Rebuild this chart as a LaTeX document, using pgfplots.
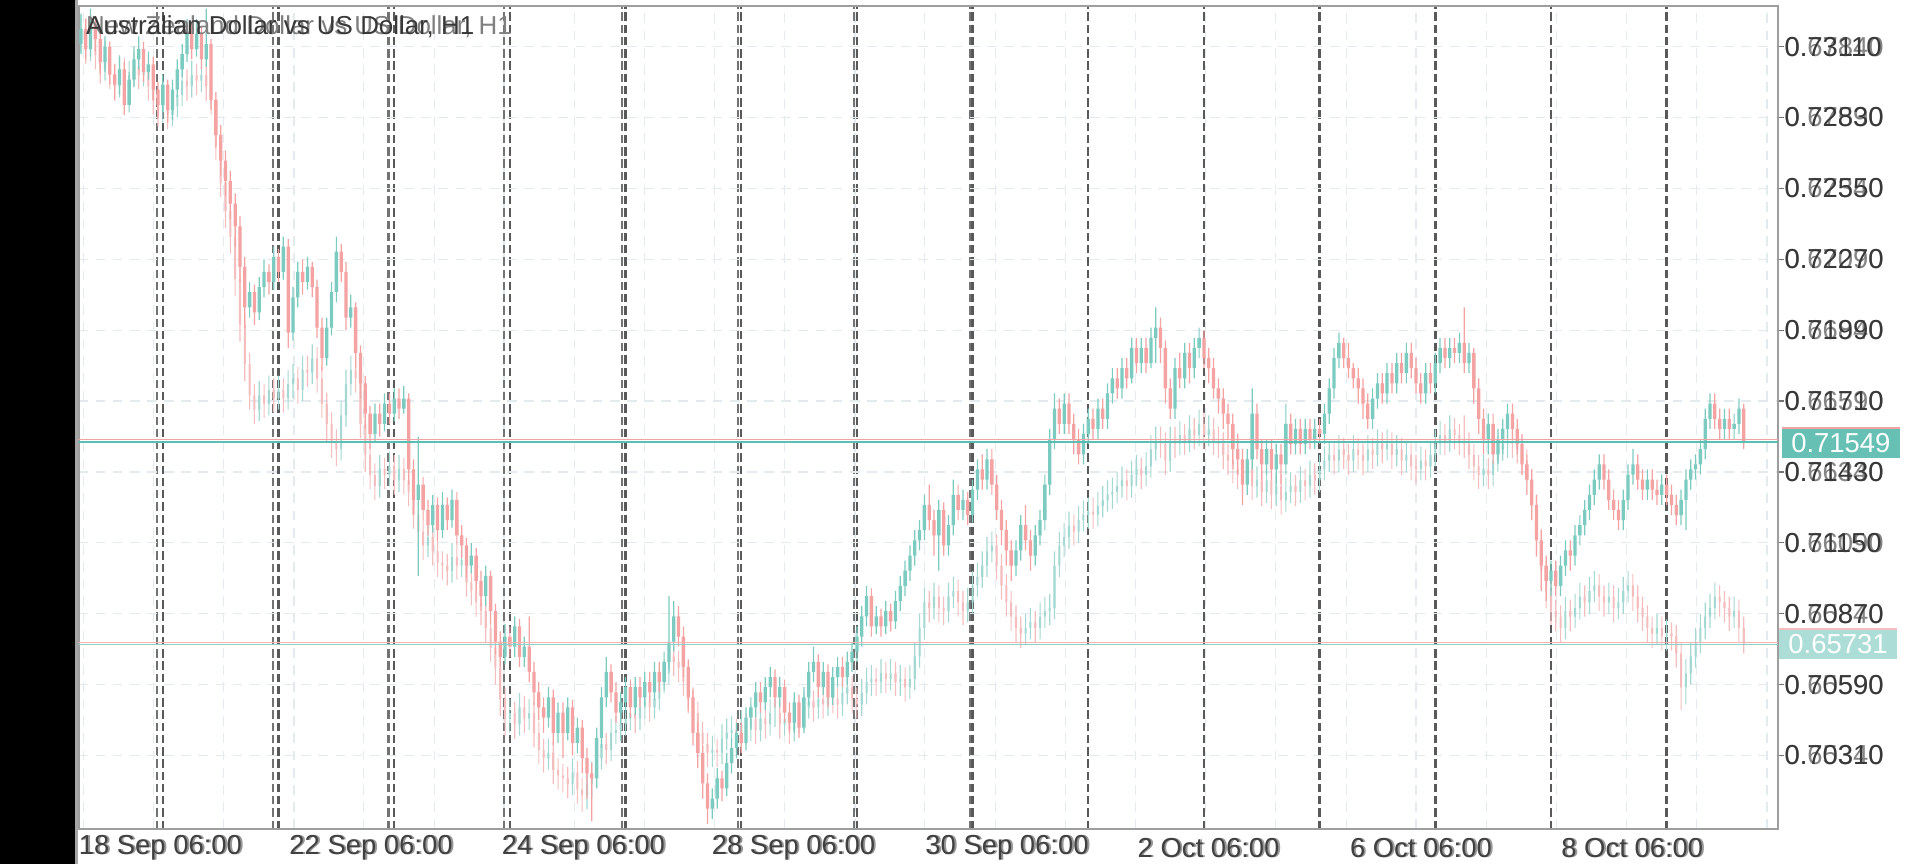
\documentclass[border=0pt]{standalone}
\usepackage{pgfplots}
\pgfplotsset{compat=1.18}
\usepackage{pgfplotstable}
\usepackage{fontspec}
\setmainfont{Liberation Sans}
\definecolor{bullA}{HTML}{7CCBC0}
\definecolor{bearA}{HTML}{F4A2A2}
\definecolor{bullB}{HTML}{A3D9D2}
\definecolor{bearB}{HTML}{F5BEBE}
\definecolor{gridc}{HTML}{E3EBEF}
\definecolor{tealline}{HTML}{5DBDB1}
\definecolor{pinkline}{HTML}{F1A3A3}
\definecolor{tagA}{HTML}{66C0B4}
\definecolor{tagB}{HTML}{ADDDD7}

% Australian Dollar vs US Dollar, H1 : bar, open, high, low, close
\pgfplotstableread{
i o h l c
7 0.7312 0.7324 0.7308 0.7318
8 0.7318 0.7322 0.7306 0.7310
9 0.7310 0.7326 0.7307 0.7320
10 0.7320 0.7323 0.7309 0.7314
11 0.7314 0.7317 0.7300 0.7305
12 0.7305 0.7315 0.7301 0.7311
13 0.7311 0.7313 0.7296 0.7300
14 0.7300 0.7304 0.7290 0.7296
15 0.7296 0.7307 0.7292 0.7302
16 0.7302 0.7305 0.7284 0.7288
17 0.7288 0.7301 0.7285 0.7298
18 0.7298 0.7311 0.7295 0.7306
19 0.7306 0.7315 0.7302 0.7310
20 0.7310 0.7313 0.7297 0.7301
21 0.7301 0.7309 0.7298 0.7304
22 0.7304 0.7307 0.7290 0.7294
23 0.7294 0.7297 0.7283 0.7288
24 0.7288 0.7300 0.7285 0.7296
25 0.7296 0.7298 0.7281 0.7286
26 0.7286 0.7298 0.7282 0.7294
27 0.7294 0.7306 0.7291 0.7302
28 0.7302 0.7312 0.7299 0.7308
29 0.7308 0.7322 0.7305 0.7317
30 0.7317 0.7320 0.7306 0.7310
31 0.7310 0.7322 0.7307 0.7316
32 0.7316 0.7319 0.7302 0.7306
33 0.7306 0.7326 0.7303 0.7312
34 0.7312 0.7314 0.7286 0.7290
35 0.7290 0.7293 0.7271 0.7276
36 0.7276 0.7280 0.7260 0.7266
37 0.7266 0.7270 0.7252 0.7258
38 0.7258 0.7262 0.7243 0.7249
39 0.7249 0.7253 0.7232 0.7240
40 0.7240 0.7244 0.7218 0.7224
41 0.7224 0.7228 0.7200 0.7208
42 0.7208 0.7218 0.7204 0.7214
43 0.7214 0.7217 0.7201 0.7206
44 0.7206 0.7220 0.7203 0.7216
45 0.7216 0.7227 0.7212 0.7222
46 0.7222 0.7225 0.7213 0.7218
47 0.7218 0.7232 0.7215 0.7228
48 0.7228 0.7231 0.7218 0.7222
49 0.7222 0.7236 0.7219 0.7232
50 0.7232 0.7235 0.7192 0.7198
51 0.7198 0.7216 0.7195 0.7212
52 0.7212 0.7226 0.7208 0.7222
53 0.7222 0.7227 0.7213 0.7218
54 0.7218 0.7228 0.7215 0.7224
55 0.7224 0.7226 0.7212 0.7216
56 0.7216 0.7219 0.7196 0.7200
57 0.7200 0.7204 0.7183 0.7188
58 0.7188 0.7204 0.7185 0.7200
59 0.7200 0.7218 0.7197 0.7214
60 0.7214 0.7236 0.7210 0.7230
61 0.7230 0.7233 0.7218 0.7222
62 0.7222 0.7226 0.7199 0.7204
63 0.7204 0.7213 0.7200 0.7208
64 0.7208 0.7210 0.7184 0.7190
65 0.7190 0.7193 0.7172 0.7178
66 0.7178 0.7181 0.7160 0.7166
67 0.7166 0.7169 0.7152 0.7158
68 0.7158 0.7170 0.7155 0.7166
69 0.7166 0.7170 0.7157 0.7162
70 0.7162 0.7174 0.7159 0.7170
71 0.7170 0.7174 0.7162 0.7166
72 0.7166 0.7176 0.7163 0.7172
73 0.7172 0.7176 0.7164 0.7168
74 0.7168 0.7177 0.7166 0.7172
75 0.7172 0.7174 0.7138 0.7144
76 0.7144 0.7148 0.7126 0.7132
77 0.7132 0.7157 0.7102 0.7138
78 0.7138 0.7141 0.7124 0.7128
79 0.7128 0.7132 0.7118 0.7122
80 0.7122 0.7134 0.7119 0.7130
81 0.7130 0.7133 0.7116 0.7120
82 0.7120 0.7135 0.7117 0.7130
83 0.7130 0.7133 0.7120 0.7124
84 0.7124 0.7136 0.7121 0.7132
85 0.7132 0.7135 0.7114 0.7118
86 0.7118 0.7122 0.7109 0.7114
87 0.7114 0.7117 0.7101 0.7106
88 0.7106 0.7115 0.7103 0.7110
89 0.7110 0.7113 0.7096 0.7100
90 0.7100 0.7104 0.7090 0.7094
91 0.7094 0.7106 0.7090 0.7102
92 0.7102 0.7104 0.7083 0.7088
93 0.7088 0.7091 0.7071 0.7076
94 0.7076 0.7080 0.7066 0.7070
95 0.7070 0.7083 0.7067 0.7078
96 0.7078 0.7082 0.7070 0.7074
97 0.7074 0.7086 0.7070 0.7082
98 0.7082 0.7085 0.7066 0.7070
99 0.7070 0.7078 0.7066 0.7074
100 0.7074 0.7086 0.7060 0.7064
101 0.7064 0.7068 0.7051 0.7056
102 0.7056 0.7060 0.7045 0.7050
103 0.7050 0.7054 0.7040 0.7046
104 0.7046 0.7058 0.7042 0.7054
105 0.7054 0.7057 0.7035 0.7040
106 0.7040 0.7052 0.7036 0.7048
107 0.7048 0.7052 0.7030 0.7040
108 0.7040 0.7054 0.7037 0.7050
109 0.7050 0.7053 0.7031 0.7036
110 0.7036 0.7046 0.7032 0.7042
111 0.7042 0.7045 0.7024 0.7030
112 0.7030 0.7034 0.7014 0.7024
113 0.7024 0.7028 0.7005 0.7022
114 0.7022 0.7042 0.7018 0.7038
115 0.7038 0.7058 0.7034 0.7054
116 0.7054 0.7070 0.7050 0.7064
117 0.7064 0.7067 0.7052 0.7056
118 0.7056 0.7060 0.7044 0.7048
119 0.7048 0.7056 0.7044 0.7052
120 0.7052 0.7062 0.7048 0.7058
121 0.7058 0.7061 0.7046 0.7050
122 0.7050 0.7062 0.7047 0.7058
123 0.7058 0.7062 0.7050 0.7054
124 0.7054 0.7064 0.7051 0.7060
125 0.7060 0.7064 0.7052 0.7056
126 0.7056 0.7068 0.7053 0.7064
127 0.7064 0.7068 0.7056 0.7060
128 0.7060 0.7072 0.7057 0.7068
129 0.7068 0.7094 0.7065 0.7076
130 0.7076 0.7092 0.7072 0.7086
131 0.7086 0.7090 0.7074 0.7078
132 0.7078 0.7082 0.7062 0.7066
133 0.7066 0.7069 0.7049 0.7054
134 0.7054 0.7057 0.7035 0.7040
135 0.7040 0.7044 0.7026 0.7032
136 0.7032 0.7035 0.7014 0.7020
137 0.7020 0.7024 0.7004 0.7010
138 0.7010 0.7018 0.7006 0.7014
139 0.7014 0.7026 0.7010 0.7022
140 0.7022 0.7025 0.7013 0.7018
141 0.7018 0.7032 0.7015 0.7028
142 0.7028 0.7038 0.7024 0.7034
143 0.7034 0.7044 0.7030 0.7040
144 0.7040 0.7044 0.7032 0.7036
145 0.7036 0.7050 0.7033 0.7046
146 0.7046 0.7054 0.7042 0.7050
147 0.7050 0.7060 0.7046 0.7056
148 0.7056 0.7060 0.7048 0.7052
149 0.7052 0.7062 0.7049 0.7058
150 0.7058 0.7066 0.7054 0.7062
151 0.7062 0.7065 0.7050 0.7054
152 0.7054 0.7062 0.7050 0.7058
153 0.7058 0.7061 0.7044 0.7048
154 0.7048 0.7052 0.7040 0.7044
155 0.7044 0.7056 0.7040 0.7052
156 0.7052 0.7055 0.7038 0.7042
157 0.7042 0.7058 0.7040 0.7054
158 0.7054 0.7068 0.7051 0.7064
159 0.7064 0.7074 0.7060 0.7068
160 0.7068 0.7071 0.7054 0.7058
161 0.7058 0.7068 0.7055 0.7064
162 0.7064 0.7067 0.7050 0.7054
163 0.7054 0.7066 0.7051 0.7062
164 0.7062 0.7070 0.7058 0.7066
165 0.7066 0.7070 0.7058 0.7062
166 0.7062 0.7072 0.7059 0.7068
167 0.7068 0.7076 0.7064 0.7072
168 0.7072 0.7082 0.7068 0.7078
169 0.7078 0.7090 0.7074 0.7086
170 0.7086 0.7098 0.7082 0.7094
171 0.7094 0.7097 0.7078 0.7082
172 0.7082 0.7090 0.7079 0.7086
173 0.7086 0.7089 0.7078 0.7082
174 0.7082 0.7092 0.7079 0.7088
175 0.7088 0.7091 0.7080 0.7084
176 0.7084 0.7096 0.7081 0.7092
177 0.7092 0.7102 0.7088 0.7098
178 0.7098 0.7108 0.7094 0.7104
179 0.7104 0.7114 0.7100 0.7110
180 0.7110 0.7120 0.7106 0.7116
181 0.7116 0.7124 0.7112 0.7120
182 0.7120 0.7134 0.7116 0.7130
183 0.7130 0.7138 0.7120 0.7124
184 0.7124 0.7128 0.7110 0.7118
185 0.7118 0.7132 0.7104 0.7128
186 0.7128 0.7131 0.7110 0.7114
187 0.7114 0.7126 0.7110 0.7122
188 0.7122 0.7140 0.7118 0.7134
189 0.7134 0.7138 0.7124 0.7128
190 0.7128 0.7136 0.7124 0.7132
191 0.7132 0.7135 0.7122 0.7126
192 0.7126 0.7140 0.7123 0.7136
193 0.7136 0.7148 0.7132 0.7144
194 0.7144 0.7150 0.7136 0.7140
195 0.7140 0.7152 0.7136 0.7148
196 0.7148 0.7152 0.7134 0.7138
197 0.7138 0.7142 0.7124 0.7128
198 0.7128 0.7132 0.7114 0.7120
199 0.7120 0.7124 0.7106 0.7112
200 0.7112 0.7116 0.7100 0.7106
201 0.7106 0.7116 0.7102 0.7112
202 0.7112 0.7126 0.7108 0.7122
203 0.7122 0.7130 0.7112 0.7116
204 0.7116 0.7120 0.7104 0.7110
205 0.7110 0.7122 0.7106 0.7118
206 0.7118 0.7128 0.7114 0.7124
207 0.7124 0.7142 0.7120 0.7138
208 0.7138 0.7160 0.7134 0.7156
209 0.7156 0.7174 0.7152 0.7168
210 0.7168 0.7172 0.7158 0.7162
211 0.7162 0.7174 0.7158 0.7170
212 0.7170 0.7174 0.7158 0.7162
213 0.7162 0.7166 0.7150 0.7156
214 0.7156 0.7160 0.7146 0.7150
215 0.7150 0.7162 0.7146 0.7158
216 0.7158 0.7168 0.7154 0.7164
217 0.7164 0.7168 0.7156 0.7160
218 0.7160 0.7172 0.7156 0.7168
219 0.7168 0.7172 0.7160 0.7164
220 0.7164 0.7178 0.7160 0.7174
221 0.7174 0.7184 0.7170 0.7180
222 0.7180 0.7184 0.7172 0.7176
223 0.7176 0.7188 0.7172 0.7184
224 0.7184 0.7188 0.7176 0.7180
225 0.7180 0.7196 0.7178 0.7192
226 0.7192 0.7196 0.7182 0.7186
227 0.7186 0.7196 0.7182 0.7192
228 0.7192 0.7196 0.7182 0.7186
229 0.7186 0.7200 0.7184 0.7196
230 0.7196 0.7208 0.7186 0.7200
231 0.7200 0.7204 0.7186 0.7192
232 0.7192 0.7195 0.7170 0.7176
233 0.7176 0.7180 0.7164 0.7168
234 0.7168 0.7188 0.7164 0.7184
235 0.7184 0.7190 0.7176 0.7180
236 0.7180 0.7194 0.7176 0.7190
237 0.7190 0.7194 0.7178 0.7184
238 0.7184 0.7196 0.7180 0.7192
239 0.7192 0.7200 0.7188 0.7196
240 0.7196 0.7199 0.7184 0.7188
241 0.7188 0.7192 0.7178 0.7184
242 0.7184 0.7188 0.7172 0.7176
243 0.7176 0.7180 0.7166 0.7172
244 0.7172 0.7176 0.7160 0.7166
245 0.7166 0.7170 0.7156 0.7162
246 0.7162 0.7166 0.7146 0.7152
247 0.7152 0.7158 0.7142 0.7148
248 0.7148 0.7152 0.7130 0.7138
249 0.7138 0.7152 0.7134 0.7148
250 0.7148 0.7176 0.7144 0.7166
251 0.7166 0.7170 0.7148 0.7152
252 0.7152 0.7156 0.7140 0.7146
253 0.7146 0.7156 0.7142 0.7152
254 0.7152 0.7156 0.7140 0.7144
255 0.7144 0.7154 0.7138 0.7150
256 0.7150 0.7154 0.7138 0.7146
257 0.7146 0.7170 0.7142 0.7162
258 0.7162 0.7166 0.7150 0.7154
259 0.7154 0.7164 0.7150 0.7160
260 0.7160 0.7164 0.7150 0.7154
261 0.7154 0.7164 0.7150 0.7160
262 0.7160 0.7164 0.7152 0.7156
263 0.7156 0.7164 0.7152 0.7160
264 0.7160 0.7164 0.7154 0.7158
265 0.7158 0.7170 0.7154 0.7166
266 0.7166 0.7180 0.7162 0.7176
267 0.7176 0.7192 0.7172 0.7188
268 0.7188 0.7198 0.7184 0.7194
269 0.7194 0.7196 0.7184 0.7188
270 0.7188 0.7194 0.7180 0.7184
271 0.7184 0.7186 0.7176 0.7180
272 0.7180 0.7184 0.7170 0.7176
273 0.7176 0.7180 0.7164 0.7170
274 0.7170 0.7174 0.7160 0.7164
275 0.7164 0.7176 0.7160 0.7172
276 0.7172 0.7182 0.7168 0.7178
277 0.7178 0.7182 0.7170 0.7174
278 0.7174 0.7186 0.7170 0.7182
279 0.7182 0.7186 0.7174 0.7178
280 0.7178 0.7190 0.7174 0.7186
281 0.7186 0.7190 0.7178 0.7182
282 0.7182 0.7194 0.7178 0.7190
283 0.7190 0.7194 0.7180 0.7184
284 0.7184 0.7188 0.7174 0.7178
285 0.7178 0.7182 0.7170 0.7174
286 0.7174 0.7186 0.7170 0.7182
287 0.7182 0.7186 0.7174 0.7178
288 0.7178 0.7190 0.7174 0.7186
289 0.7186 0.7196 0.7182 0.7192
290 0.7192 0.7196 0.7184 0.7188
291 0.7188 0.7196 0.7184 0.7192
292 0.7192 0.7196 0.7186 0.7190
293 0.7190 0.7198 0.7186 0.7194
294 0.7194 0.7208 0.7182 0.7186
295 0.7186 0.7194 0.7182 0.7190
296 0.7190 0.7192 0.7170 0.7176
297 0.7176 0.7180 0.7158 0.7164
298 0.7164 0.7168 0.7150 0.7156
299 0.7156 0.7166 0.7150 0.7162
300 0.7162 0.7166 0.7146 0.7150
301 0.7150 0.7160 0.7146 0.7156
302 0.7156 0.7164 0.7150 0.7160
303 0.7160 0.7170 0.7156 0.7166
304 0.7166 0.7170 0.7156 0.7160
305 0.7160 0.7164 0.7150 0.7154
306 0.7154 0.7158 0.7142 0.7146
307 0.7146 0.7150 0.7134 0.7140
308 0.7140 0.7144 0.7124 0.7130
309 0.7130 0.7134 0.7110 0.7116
310 0.7116 0.7120 0.7096 0.7106
311 0.7106 0.7110 0.7092 0.7100
312 0.7100 0.7108 0.7094 0.7104
313 0.7104 0.7108 0.7094 0.7098
314 0.7098 0.7110 0.7094 0.7106
315 0.7106 0.7116 0.7102 0.7112
316 0.7112 0.7116 0.7104 0.7110
317 0.7110 0.7122 0.7106 0.7118
318 0.7118 0.7126 0.7114 0.7122
319 0.7122 0.7132 0.7118 0.7128
320 0.7128 0.7138 0.7124 0.7134
321 0.7134 0.7144 0.7130 0.7140
322 0.7140 0.7150 0.7136 0.7146
323 0.7146 0.7150 0.7136 0.7140
324 0.7140 0.7144 0.7128 0.7132
325 0.7132 0.7136 0.7124 0.7128
326 0.7128 0.7132 0.7120 0.7124
327 0.7124 0.7136 0.7120 0.7132
328 0.7132 0.7146 0.7128 0.7142
329 0.7142 0.7152 0.7138 0.7146
330 0.7146 0.7150 0.7136 0.7140
331 0.7140 0.7144 0.7132 0.7136
332 0.7136 0.7144 0.7132 0.7140
333 0.7140 0.7144 0.7132 0.7136
334 0.7136 0.7140 0.7130 0.7134
335 0.7134 0.7142 0.7130 0.7138
336 0.7138 0.7142 0.7130 0.7134
337 0.7134 0.7138 0.7126 0.7130
338 0.7130 0.7134 0.7122 0.7126
339 0.7126 0.7136 0.7122 0.7132
340 0.7132 0.7144 0.7120 0.7140
341 0.7140 0.7148 0.7136 0.7144
342 0.7144 0.7150 0.7140 0.7146
343 0.7146 0.7156 0.7142 0.7152
344 0.7152 0.7168 0.7148 0.7164
345 0.7164 0.7174 0.7160 0.7170
346 0.7170 0.7174 0.7160 0.7164
347 0.7164 0.7168 0.7156 0.7160
348 0.7160 0.7168 0.7156 0.7164
349 0.7164 0.7168 0.7156 0.7160
350 0.7160 0.7166 0.7156 0.7162
351 0.7162 0.7172 0.7158 0.7168
352 0.7168 0.7170 0.7152 0.71549
}\dataA

% New Zealand Dollar vs US Dollar, H1 (ghost chart) : bar, open, high, low, close
\pgfplotstableread{
i o h l c
7 0.6786 0.6795 0.6782 0.6790
8 0.6790 0.6794 0.6778 0.6783
9 0.6783 0.6793 0.6779 0.6788
10 0.6788 0.6791 0.6776 0.6781
11 0.6781 0.6785 0.6771 0.6776
12 0.6776 0.6786 0.6772 0.6781
13 0.6781 0.6784 0.6769 0.6774
14 0.6774 0.6778 0.6765 0.6770
15 0.6770 0.6781 0.6766 0.6776
16 0.6776 0.6780 0.6764 0.6769
17 0.6769 0.6779 0.6765 0.6774
18 0.6774 0.6782 0.6770 0.6777
19 0.6777 0.6781 0.6769 0.6774
20 0.6774 0.6781 0.6770 0.6776
21 0.6776 0.6780 0.6765 0.6770
22 0.6770 0.6774 0.6760 0.6765
23 0.6765 0.6769 0.6756 0.6761
24 0.6761 0.6772 0.6757 0.6767
25 0.6767 0.6771 0.6755 0.6760
26 0.6760 0.6768 0.6756 0.6763
27 0.6763 0.6772 0.6759 0.6767
28 0.6767 0.6777 0.6763 0.6772
29 0.6772 0.6776 0.6765 0.6770
30 0.6770 0.6779 0.6766 0.6774
31 0.6774 0.6778 0.6767 0.6772
32 0.6772 0.6779 0.6768 0.6774
33 0.6774 0.6778 0.6765 0.6770
34 0.6770 0.6774 0.6760 0.6765
35 0.6765 0.6768 0.6744 0.6749
36 0.6749 0.6753 0.6731 0.6736
37 0.6736 0.6740 0.6720 0.6726
38 0.6726 0.6730 0.6711 0.6717
39 0.6717 0.6721 0.6696 0.6702
40 0.6702 0.6706 0.6680 0.6686
41 0.6686 0.6690 0.6666 0.6672
42 0.6672 0.6676 0.6656 0.6661
43 0.6661 0.6665 0.6651 0.6656
44 0.6656 0.6666 0.6652 0.6661
45 0.6661 0.6665 0.6653 0.6658
46 0.6658 0.6668 0.6654 0.6663
47 0.6663 0.6667 0.6655 0.6660
48 0.6660 0.6668 0.6656 0.6663
49 0.6663 0.6667 0.6655 0.6660
50 0.6660 0.6670 0.6656 0.6665
51 0.6665 0.6672 0.6660 0.6667
52 0.6667 0.6671 0.6658 0.6663
53 0.6663 0.6675 0.6659 0.6670
54 0.6670 0.6675 0.6664 0.6669
55 0.6669 0.6679 0.6665 0.6674
56 0.6674 0.6678 0.6662 0.6667
57 0.6667 0.6671 0.6653 0.6658
58 0.6658 0.6662 0.6645 0.6651
59 0.6651 0.6655 0.6639 0.6645
60 0.6645 0.6649 0.6636 0.6642
61 0.6642 0.6659 0.6638 0.6654
62 0.6654 0.6670 0.6650 0.6665
63 0.6665 0.6675 0.6661 0.6670
64 0.6670 0.6674 0.6662 0.6667
65 0.6667 0.6670 0.6646 0.6651
66 0.6651 0.6655 0.6634 0.6640
67 0.6640 0.6644 0.6628 0.6633
68 0.6633 0.6637 0.6624 0.6629
69 0.6629 0.6640 0.6625 0.6635
70 0.6635 0.6639 0.6628 0.6633
71 0.6633 0.6641 0.6629 0.6636
72 0.6636 0.6640 0.6626 0.6631
73 0.6631 0.6640 0.6627 0.6635
74 0.6635 0.6639 0.6626 0.6631
75 0.6631 0.6635 0.6622 0.6627
76 0.6627 0.6631 0.6614 0.6619
77 0.6619 0.6623 0.6608 0.6613
78 0.6613 0.6617 0.6603 0.6608
79 0.6608 0.6616 0.6604 0.6611
80 0.6611 0.6615 0.6601 0.6606
81 0.6606 0.6610 0.6597 0.6602
82 0.6602 0.6606 0.6596 0.6601
83 0.6601 0.6605 0.6594 0.6599
84 0.6599 0.6609 0.6595 0.6604
85 0.6604 0.6608 0.6596 0.6601
86 0.6601 0.6608 0.6597 0.6603
87 0.6603 0.6607 0.6590 0.6595
88 0.6595 0.6599 0.6587 0.6592
89 0.6592 0.6596 0.6583 0.6588
90 0.6588 0.6592 0.6580 0.6585
91 0.6585 0.6589 0.6574 0.6579
92 0.6579 0.6583 0.6567 0.6572
93 0.6572 0.6576 0.6559 0.6565
94 0.6565 0.6569 0.6548 0.6554
95 0.6554 0.6558 0.6541 0.6547
96 0.6547 0.6554 0.6542 0.6549
97 0.6549 0.6553 0.6540 0.6545
98 0.6545 0.6556 0.6541 0.6551
99 0.6551 0.6555 0.6542 0.6547
100 0.6547 0.6554 0.6543 0.6549
101 0.6549 0.6553 0.6537 0.6542
102 0.6542 0.6546 0.6531 0.6536
103 0.6536 0.6540 0.6528 0.6533
104 0.6533 0.6540 0.6529 0.6535
105 0.6535 0.6539 0.6524 0.6529
106 0.6529 0.6533 0.6522 0.6527
107 0.6527 0.6531 0.6521 0.6526
108 0.6526 0.6530 0.6519 0.6524
109 0.6524 0.6533 0.6520 0.6528
110 0.6528 0.6532 0.6517 0.6522
111 0.6522 0.6526 0.6514 0.6520
112 0.6520 0.6529 0.6515 0.6524
113 0.6524 0.6532 0.6519 0.6527
114 0.6527 0.6538 0.6523 0.6533
115 0.6533 0.6543 0.6529 0.6538
116 0.6538 0.6542 0.6531 0.6536
117 0.6536 0.6547 0.6532 0.6542
118 0.6542 0.6548 0.6538 0.6543
119 0.6543 0.6550 0.6539 0.6545
120 0.6545 0.6552 0.6541 0.6547
121 0.6547 0.6554 0.6543 0.6549
122 0.6549 0.6553 0.6542 0.6547
123 0.6547 0.6556 0.6543 0.6551
124 0.6551 0.6558 0.6547 0.6553
125 0.6553 0.6557 0.6546 0.6551
126 0.6551 0.6559 0.6547 0.6554
127 0.6554 0.6565 0.6550 0.6560
128 0.6560 0.6568 0.6556 0.6563
129 0.6563 0.6574 0.6559 0.6569
130 0.6569 0.6573 0.6562 0.6567
131 0.6567 0.6571 0.6560 0.6565
132 0.6565 0.6569 0.6555 0.6560
133 0.6560 0.6564 0.6549 0.6554
134 0.6554 0.6558 0.6544 0.6549
135 0.6549 0.6553 0.6537 0.6542
136 0.6542 0.6546 0.6533 0.6538
137 0.6538 0.6542 0.6530 0.6535
138 0.6535 0.6541 0.6530 0.6536
139 0.6536 0.6540 0.6530 0.6535
140 0.6535 0.6545 0.6531 0.6540
141 0.6540 0.6547 0.6536 0.6542
142 0.6542 0.6548 0.6538 0.6543
143 0.6543 0.6547 0.6535 0.6540
144 0.6540 0.6550 0.6536 0.6545
145 0.6545 0.6549 0.6538 0.6543
146 0.6543 0.6552 0.6539 0.6547
147 0.6547 0.6551 0.6538 0.6543
148 0.6543 0.6552 0.6539 0.6547
149 0.6547 0.6551 0.6540 0.6545
150 0.6545 0.6554 0.6541 0.6549
151 0.6549 0.6554 0.6544 0.6549
152 0.6549 0.6553 0.6540 0.6545
153 0.6545 0.6552 0.6541 0.6547
154 0.6547 0.6551 0.6538 0.6543
155 0.6543 0.6554 0.6539 0.6549
156 0.6549 0.6553 0.6542 0.6547
157 0.6547 0.6556 0.6543 0.6551
158 0.6551 0.6558 0.6547 0.6553
159 0.6553 0.6557 0.6546 0.6551
160 0.6551 0.6559 0.6547 0.6554
161 0.6554 0.6558 0.6547 0.6552
162 0.6552 0.6561 0.6548 0.6556
163 0.6556 0.6560 0.6549 0.6554
164 0.6554 0.6558 0.6547 0.6552
165 0.6552 0.6561 0.6548 0.6556
166 0.6556 0.6563 0.6552 0.6558
167 0.6558 0.6562 0.6549 0.6554
168 0.6554 0.6558 0.6547 0.6552
169 0.6552 0.6561 0.6548 0.6556
170 0.6556 0.6565 0.6552 0.6560
171 0.6560 0.6566 0.6555 0.6561
172 0.6561 0.6565 0.6555 0.6560
173 0.6560 0.6568 0.6556 0.6563
174 0.6563 0.6567 0.6556 0.6561
175 0.6561 0.6568 0.6557 0.6563
176 0.6563 0.6567 0.6555 0.6560
177 0.6560 0.6566 0.6555 0.6561
178 0.6561 0.6565 0.6553 0.6558
179 0.6558 0.6566 0.6554 0.6561
180 0.6561 0.6574 0.6557 0.6569
181 0.6569 0.6584 0.6565 0.6579
182 0.6579 0.6593 0.6575 0.6588
183 0.6588 0.6592 0.6581 0.6586
184 0.6586 0.6595 0.6582 0.6590
185 0.6590 0.6594 0.6581 0.6586
186 0.6586 0.6590 0.6580 0.6585
187 0.6585 0.6595 0.6581 0.6590
188 0.6590 0.6597 0.6586 0.6592
189 0.6592 0.6596 0.6583 0.6588
190 0.6588 0.6592 0.6580 0.6585
191 0.6585 0.6593 0.6581 0.6588
192 0.6588 0.6599 0.6584 0.6594
193 0.6594 0.6602 0.6590 0.6597
194 0.6597 0.6606 0.6593 0.6601
195 0.6601 0.6611 0.6597 0.6606
196 0.6606 0.6613 0.6602 0.6608
197 0.6608 0.6612 0.6596 0.6601
198 0.6601 0.6605 0.6589 0.6594
199 0.6594 0.6598 0.6583 0.6588
200 0.6588 0.6592 0.6578 0.6583
201 0.6583 0.6587 0.6574 0.6579
202 0.6579 0.6583 0.6572 0.6577
203 0.6577 0.6584 0.6573 0.6579
204 0.6579 0.6586 0.6575 0.6581
205 0.6581 0.6585 0.6574 0.6579
206 0.6579 0.6588 0.6575 0.6583
207 0.6583 0.6590 0.6579 0.6585
208 0.6585 0.6591 0.6580 0.6586
209 0.6586 0.6606 0.6582 0.6601
210 0.6601 0.6613 0.6597 0.6608
211 0.6608 0.6616 0.6604 0.6611
212 0.6611 0.6620 0.6607 0.6615
213 0.6615 0.6619 0.6608 0.6613
214 0.6613 0.6622 0.6609 0.6617
215 0.6617 0.6624 0.6613 0.6619
216 0.6619 0.6625 0.6614 0.6620
217 0.6620 0.6625 0.6614 0.6619
218 0.6619 0.6627 0.6615 0.6622
219 0.6622 0.6629 0.6618 0.6624
220 0.6624 0.6631 0.6620 0.6626
221 0.6626 0.6632 0.6621 0.6627
222 0.6627 0.6634 0.6623 0.6629
223 0.6629 0.6636 0.6625 0.6631
224 0.6631 0.6635 0.6624 0.6629
225 0.6629 0.6638 0.6625 0.6633
226 0.6633 0.6640 0.6629 0.6635
227 0.6635 0.6639 0.6628 0.6633
228 0.6633 0.6641 0.6629 0.6636
229 0.6636 0.6647 0.6632 0.6642
230 0.6642 0.6650 0.6638 0.6645
231 0.6645 0.6650 0.6639 0.6644
232 0.6644 0.6648 0.6633 0.6638
233 0.6638 0.6650 0.6634 0.6645
234 0.6645 0.6650 0.6639 0.6644
235 0.6644 0.6652 0.6640 0.6647
236 0.6647 0.6651 0.6640 0.6645
237 0.6645 0.6654 0.6641 0.6649
238 0.6649 0.6653 0.6642 0.6647
239 0.6647 0.6656 0.6643 0.6651
240 0.6651 0.6655 0.6642 0.6647
241 0.6647 0.6654 0.6643 0.6649
242 0.6649 0.6653 0.6640 0.6645
243 0.6645 0.6650 0.6639 0.6644
244 0.6644 0.6648 0.6635 0.6640
245 0.6640 0.6644 0.6633 0.6638
246 0.6638 0.6642 0.6630 0.6635
247 0.6635 0.6639 0.6628 0.6633
248 0.6633 0.6637 0.6626 0.6631
249 0.6631 0.6640 0.6627 0.6635
250 0.6635 0.6639 0.6624 0.6629
251 0.6629 0.6636 0.6625 0.6631
252 0.6631 0.6635 0.6622 0.6627
253 0.6627 0.6636 0.6623 0.6631
254 0.6631 0.6635 0.6621 0.6626
255 0.6626 0.6634 0.6622 0.6629
256 0.6629 0.6633 0.6619 0.6624
257 0.6624 0.6632 0.6620 0.6627
258 0.6627 0.6634 0.6623 0.6629
259 0.6629 0.6633 0.6622 0.6627
260 0.6627 0.6636 0.6623 0.6631
261 0.6631 0.6635 0.6624 0.6629
262 0.6629 0.6638 0.6625 0.6633
263 0.6633 0.6637 0.6626 0.6631
264 0.6631 0.6640 0.6627 0.6635
265 0.6635 0.6643 0.6631 0.6638
266 0.6638 0.6645 0.6634 0.6640
267 0.6640 0.6644 0.6633 0.6638
268 0.6638 0.6647 0.6634 0.6642
269 0.6642 0.6646 0.6635 0.6640
270 0.6640 0.6644 0.6633 0.6638
271 0.6638 0.6647 0.6634 0.6642
272 0.6642 0.6646 0.6635 0.6640
273 0.6640 0.6644 0.6633 0.6638
274 0.6638 0.6647 0.6634 0.6642
275 0.6642 0.6646 0.6635 0.6640
276 0.6640 0.6649 0.6636 0.6644
277 0.6644 0.6648 0.6637 0.6642
278 0.6642 0.6649 0.6638 0.6644
279 0.6644 0.6648 0.6635 0.6640
280 0.6640 0.6647 0.6636 0.6642
281 0.6642 0.6646 0.6633 0.6638
282 0.6638 0.6645 0.6634 0.6640
283 0.6640 0.6644 0.6631 0.6636
284 0.6636 0.6640 0.6630 0.6635
285 0.6635 0.6643 0.6631 0.6638
286 0.6638 0.6642 0.6631 0.6636
287 0.6636 0.6645 0.6632 0.6640
288 0.6640 0.6649 0.6636 0.6644
289 0.6644 0.6652 0.6640 0.6647
290 0.6647 0.6651 0.6640 0.6645
291 0.6645 0.6654 0.6641 0.6649
292 0.6649 0.6653 0.6642 0.6647
293 0.6647 0.6651 0.6640 0.6645
294 0.6645 0.6654 0.6639 0.6644
295 0.6644 0.6648 0.6635 0.6640
296 0.6640 0.6644 0.6631 0.6636
297 0.6636 0.6640 0.6628 0.6633
298 0.6633 0.6640 0.6629 0.6635
299 0.6635 0.6639 0.6628 0.6633
300 0.6633 0.6643 0.6629 0.6638
301 0.6638 0.6647 0.6634 0.6642
302 0.6642 0.6649 0.6638 0.6644
303 0.6644 0.6650 0.6639 0.6645
304 0.6645 0.6650 0.6639 0.6644
305 0.6644 0.6648 0.6637 0.6642
306 0.6642 0.6646 0.6633 0.6638
307 0.6638 0.6642 0.6626 0.6631
308 0.6631 0.6635 0.6617 0.6622
309 0.6622 0.6626 0.6604 0.6610
310 0.6610 0.6614 0.6593 0.6599
311 0.6599 0.6603 0.6586 0.6592
312 0.6592 0.6596 0.6580 0.6585
313 0.6585 0.6589 0.6578 0.6583
314 0.6583 0.6587 0.6574 0.6579
315 0.6579 0.6590 0.6575 0.6585
316 0.6585 0.6589 0.6578 0.6583
317 0.6583 0.6591 0.6579 0.6586
318 0.6586 0.6595 0.6582 0.6590
319 0.6590 0.6594 0.6583 0.6588
320 0.6588 0.6597 0.6584 0.6592
321 0.6592 0.6599 0.6588 0.6594
322 0.6594 0.6598 0.6585 0.6590
323 0.6590 0.6594 0.6583 0.6588
324 0.6588 0.6595 0.6584 0.6590
325 0.6590 0.6594 0.6581 0.6586
326 0.6586 0.6593 0.6582 0.6588
327 0.6588 0.6597 0.6584 0.6592
328 0.6592 0.6599 0.6588 0.6594
329 0.6594 0.6598 0.6585 0.6590
330 0.6590 0.6594 0.6581 0.6586
331 0.6586 0.6590 0.6578 0.6583
332 0.6583 0.6587 0.6574 0.6579
333 0.6579 0.6583 0.6572 0.6577
334 0.6577 0.6584 0.6573 0.6579
335 0.6579 0.6583 0.6571 0.6576
336 0.6576 0.6582 0.6571 0.6577
337 0.6577 0.6581 0.6571 0.6576
338 0.6576 0.6580 0.6565 0.6570
339 0.6570 0.6574 0.6550 0.6558
340 0.6558 0.6568 0.6552 0.6563
341 0.6563 0.6574 0.6559 0.6569
342 0.6569 0.6579 0.6565 0.6574
343 0.6574 0.6584 0.6570 0.6579
344 0.6579 0.6588 0.6575 0.6583
345 0.6583 0.6591 0.6579 0.6586
346 0.6586 0.6595 0.6582 0.6590
347 0.6590 0.6594 0.6583 0.6588
348 0.6588 0.6592 0.6581 0.6586
349 0.6586 0.6590 0.6578 0.6583
350 0.6583 0.6590 0.6579 0.6585
351 0.6585 0.6589 0.6574 0.6579
352 0.6579 0.6583 0.6570 0.65731
}\dataB

\pgfplotsset{
  chartbox/.style={at={(32pt,14.3pt)}, anchor=south west, scale only axis,
    width=694pt, height=336pt, xmin=6.47, xmax=359.1},
  scaleA/.style={ymin=0.70020, ymax=0.73270},
  scaleB/.style={ymin=0.65081, ymax=0.67983},
  candleaxis/.style={chartbox, hide axis, ybar stacked, clip=true},
}

% wicks: invisible stack base at the low, visible bar from low to high
\newcommand{\wicks}[3]{%
  \addplot[draw=none, fill=none] table[x=i, y=l] {#1};
  \addplot[draw=none, fill=#2] table[x=i, y expr={\thisrow{c}<\thisrow{o} ? 0 : \thisrow{h}-\thisrow{l}}] {#1};
  \addplot[draw=none, fill=#3] table[x=i, y expr={\thisrow{c}<\thisrow{o} ? \thisrow{h}-\thisrow{l} : 0}] {#1};
}
% bodies: invisible stack base at min(open,close), visible bar from open to close
\newcommand{\bodies}[3]{%
  \addplot[draw=none, fill=none] table[x=i, y expr={min(\thisrow{o},\thisrow{c})}] {#1};
  \addplot[draw=none, fill=#2] table[x=i, y expr={\thisrow{c}<\thisrow{o} ? 0 : \thisrow{c}-\thisrow{o}}] {#1};
  \addplot[draw=none, fill=#3] table[x=i, y expr={\thisrow{c}<\thisrow{o} ? \thisrow{o}-\thisrow{c} : 0}] {#1};
}

\newcommand{\lblfont}{\fontsize{11.2}{13}\selectfont}
\newcommand{\ttlfont}{\fontsize{10.6}{12}\selectfont}
\newcommand{\xfont}{\fontsize{11.2}{13}\selectfont}

\begin{document}
\begin{tikzpicture}
\path[use as bounding box, fill=white] (0pt,0pt) rectangle (784pt,352.8pt);

% ghost chart frame: its own dashed day lines, faint grid and price scale
\begin{axis}[chartbox, scaleB,
  axis line style={draw=none},
  xtick={22.8,46.8,70.8,94.8,119.3,143.3,167.4,191.5},
  xticklabels={}, xtick style={draw=none},
  xmajorgrids, major x grid style={black!55, line width=0.9pt, dash pattern=on 3.4pt off 1.6pt},
  minor xtick={7.5,22.1,36.6,51.2,65.7,80.3,94.8,109.4,123.9,138.5,153,167.6,182.1,196.7,211.2,225.8,240.3,254.9,269.5,284,298.6,313.1,327.7,342.2,356.8},
  xminorgrids, minor x grid style={gridc, line width=0.5pt, dash pattern=on 4pt off 3pt},
  minor tick length=0pt,
  ytick={0.6534,0.6559,0.6584,0.6609,0.6634,0.6659,0.6684,0.6709,0.6734,0.6759,0.6784},
  yticklabels={0.65340,0.65590,0.65840,0.66090,0.66340,0.66590,0.66840,0.67090,0.67340,0.67590,0.67840},
  yticklabel pos=right, ytick style={draw=none},
  tick align=outside, major tick length=2.5pt,
  yticklabel style={font=\lblfont, text=black!48, inner sep=0pt, anchor=west},
]
\addplot[draw=none] coordinates {(10,0.66)};
\end{axis}

% main chart frame: dashed day lines, faint price grid and price scale
\begin{axis}[chartbox, scaleA,
  axis line style={draw=black!38, line width=1pt},
  xtick={24,48,...,336}, xticklabels={}, xtick style={draw=none},
  xmajorgrids, major x grid style={black!65, line width=1pt, dash pattern=on 3.4pt off 1.6pt},
  ytick={0.7031,0.7059,0.7087,0.7115,0.7143,0.7171,0.7199,0.7227,0.7255,0.7283,0.7311},
  yticklabels={0.70310,0.70590,0.70870,0.71150,0.71430,0.71710,0.71990,0.72270,0.72550,0.72830,0.73110},
  yticklabel pos=right,
  ymajorgrids, major y grid style={gridc, line width=0.5pt, dash pattern=on 4pt off 3pt},
  ytick style={draw=black!55, line width=0.5pt},
  tick align=outside, major tick length=2.5pt,
  yticklabel style={font=\lblfont, text=black!78, inner sep=0pt, anchor=west},
]
\addplot[draw=none] coordinates {(10,0.71)};
\end{axis}

% ghost chart candles
\begin{axis}[candleaxis, scaleB, bar width=0.45pt]
\wicks{\dataB}{bullB}{bearB}
\end{axis}
\begin{axis}[candleaxis, scaleB, bar width=0.85pt]
\bodies{\dataB}{bullB}{bearB}
\end{axis}

% main chart candles
\begin{axis}[candleaxis, scaleA, bar width=0.5pt]
\wicks{\dataA}{bullA}{bearA}
\end{axis}
\begin{axis}[candleaxis, scaleA, bar width=1.35pt]
\bodies{\dataA}{bullA}{bearA}
\end{axis}

% current price lines
\begin{axis}[chartbox, scaleB, hide axis]
\addplot[tealline!70, line width=0.55pt] coordinates {(6.47,0.65731) (359.1,0.65731)};
\addplot[pinkline!80, line width=0.5pt] coordinates {(6.47,0.65738) (359.1,0.65738)};
\end{axis}
\begin{axis}[chartbox, scaleA, hide axis]
\addplot[tealline, line width=0.6pt] coordinates {(6.47,0.71549) (359.1,0.71549)};
\addplot[pinkline, line width=0.5pt] coordinates {(6.47,0.71557) (359.1,0.71557)};
\end{axis}

% titles (main and ghost)
\node[anchor=west, inner sep=0pt, text=black!50, font=\ttlfont] at (35pt,341.8pt) {New Zealand Dollar vs US Dollar, H1};
\node[anchor=west, inner sep=0pt, text=black!78, font=\ttlfont] at (35pt,341.8pt) {Australian Dollar vs US Dollar, H1};

% price tags
\fill[tagA] (727.5pt,165.8pt) rectangle (776pt,177.8pt);
\draw[pinkline, line width=0.5pt] (727.5pt,178pt) -- (776pt,178pt);
\node[text=white, font=\lblfont, inner sep=0pt] at (751.7pt,171.8pt) {0.71549};
\fill[tagB] (726.5pt,83.8pt) rectangle (774.5pt,95.8pt);
\draw[pinkline!70, line width=0.5pt] (726.5pt,96pt) -- (774.5pt,96pt);
\node[text=white, font=\lblfont, inner sep=0pt] at (750.5pt,89.8pt) {0.65731};

% time labels
\foreach \xx/\lab in {65.5/18 Sep 06:00, 151.5/22 Sep 06:00, 238.2/24 Sep 06:00, 324/28 Sep 06:00, 411.2/30 Sep 06:00, 493.5/2 Oct 06:00, 580.2/6 Oct 06:00, 666.5/8 Oct 06:00}{
  \node[text=black!40, font=\xfont, inner sep=0pt] at (\xx pt+0.8pt,6.6pt) {\lab};
  \node[text=black!75, font=\xfont, inner sep=0pt] at (\xx pt,6.6pt) {\lab};
}

% left black strip and frame edge
\fill[black] (0pt,0pt) rectangle (30.5pt,352.8pt);
\fill[black!35] (30.5pt,0pt) rectangle (32pt,352.8pt);
\end{tikzpicture}
\end{document}
